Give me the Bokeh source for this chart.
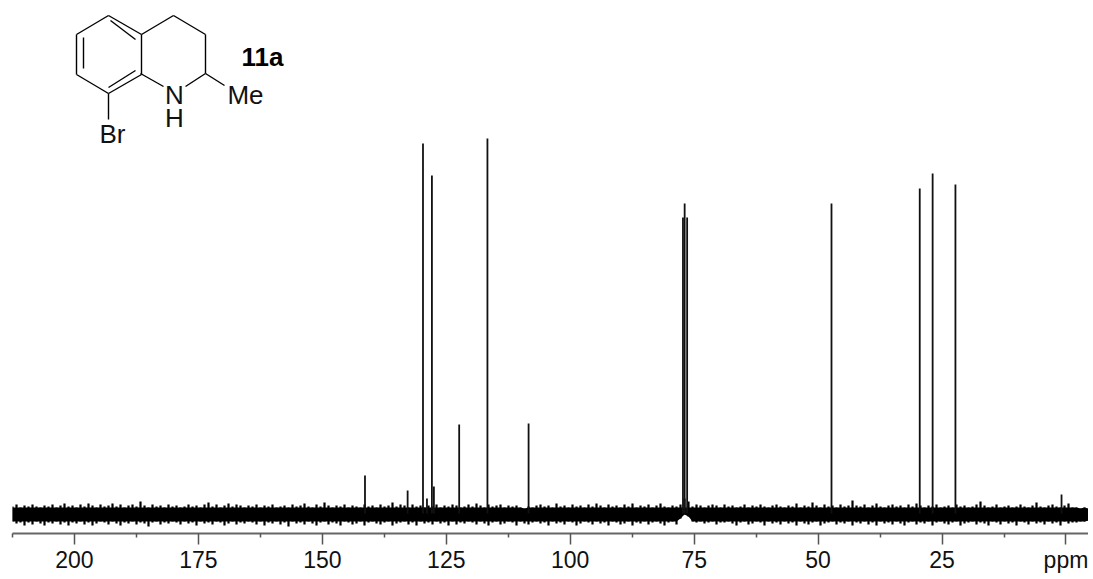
from bokeh.plotting import figure
from bokeh.models import Range1d, FixedTicker, LinearAxis
from bokeh.core.properties import value
from bokeh.embed import file_html
from bokeh.resources import INLINE
import numpy as np

# Tick labels (0 ppm position carries the unit label, as in the reference)
major_ticks = [200, 175, 150, 125, 100, 75, 50, 25, 0]
minor_ticks = [212.5, 187.5, 162.5, 137.5, 112.5, 87.5, 62.5, 37.5, 12.5]
tick_overrides = {0: "ppm"}

# Resolved peaks: chemical shift (ppm) and intensity
peak_ppm = [141.4, 132.8, 129.7, 128.9, 127.9, 127.5, 122.4, 116.7, 108.4,
            77.26, 76.92, 76.42, 47.3, 29.5, 26.9, 22.3, 0.9]
peak_int = [58, 43, 390, 35, 358, 47, 109, 395, 110,
            316, 330, 316, 330, 345, 360, 349, 39]

# Noise band envelopes, left to right across the spectrum
noise_upper = [
    27, 29, 26, 28, 27, 29, 27, 26, 28, 27, 29, 26, 28, 30, 27,
    28, 26, 29, 27, 30, 28, 26, 29, 27, 28, 30, 27, 29, 26, 28,
    29, 27, 32, 28, 26, 29, 27, 28, 26, 29, 27, 28, 26, 27, 29,
    27, 28, 26, 29, 31, 27, 29, 26, 28, 30, 27, 29, 28, 26, 28,
    27, 29, 26, 28, 27, 29, 26, 27, 28, 26, 29, 27, 28, 30, 27,
    26, 29, 27, 31, 28, 26, 28, 27, 29, 26, 28, 27, 26, 29, 27,
    28, 26, 29, 27, 28, 31, 27, 29, 28, 26, 29, 27, 28, 26, 28,
    27, 29, 26, 28, 27, 29, 28, 26, 27, 29, 27, 30, 28, 26, 29,
    27, 28, 29, 26, 28, 27, 28, 26, 25, 27, 26, 28, 29, 27, 28,
    26, 30, 27, 28, 26, 29, 27, 28, 26, 29, 27, 30, 28, 26, 29,
    27, 28, 26, 29, 27, 30, 26, 28, 27, 29, 26, 28, 30, 27, 26,
    28, 27, 29, 35, 32, 27, 29, 28, 26, 28, 29, 28, 26, 29, 27,
    28, 26, 27, 29, 26, 28, 27, 29, 27, 26, 28, 29, 27, 26, 28,
    27, 30, 26, 28, 27, 31, 28, 26, 29, 27, 28, 26, 29, 27, 28,
    33, 28, 27, 29, 26, 28, 30, 27, 26, 28, 29, 27, 28, 26, 29,
    27, 30, 28, 26, 28, 27, 29, 26, 27, 28, 26, 29, 27, 28, 26,
    27, 29, 32, 28, 26, 27, 29, 26, 27, 28, 26, 27, 29, 27, 26,
    28, 31, 27, 26, 28, 29, 27, 26, 28, 30, 26, 26, 25, 26, 25,
]
noise_lower = [
    12, 10, 11, 8, 11, 9, 12, 10, 8, 11, 10, 12, 9, 11, 8,
    11, 10, 12, 9, 11, 8, 10, 12, 11, 9, 12, 10, 8, 11, 10,
    12, 9, 11, 10, 7, 11, 12, 9, 11, 10, 12, 11, 9, 12, 10,
    11, 8, 12, 10, 11, 9, 12, 11, 8, 10, 12, 9, 11, 10, 12,
    11, 9, 12, 8, 11, 10, 12, 9, 11, 7, 12, 10, 11, 9, 12,
    10, 8, 11, 12, 9, 11, 10, 8, 12, 11, 9, 10, 12, 8, 11,
    12, 10, 9, 11, 12, 8, 10, 11, 12, 9, 11, 8, 12, 10, 11,
    9, 12, 10, 11, 8, 12, 9, 11, 10, 12, 11, 9, 12, 10, 8,
    11, 12, 9, 10, 12, 11, 8, 12, 10, 9, 11, 12, 10, 11, 8,
    12, 10, 11, 9, 12, 11, 8, 10, 12, 11, 9, 12, 10, 11, 8,
    12, 11, 9, 10, 12, 8, 11, 10, 12, 9, 11, 12, 10, 8, 11,
    12, 9, 15, 19, 17, 12, 11, 12, 10, 11, 12, 9, 11, 11, 12,
    10, 8, 11, 12, 9, 10, 12, 11, 8, 12, 10, 11, 9, 12, 10,
    11, 8, 12, 10, 9, 11, 12, 8, 10, 11, 12, 9, 11, 10, 12,
    8, 11, 10, 12, 9, 11, 8, 12, 10, 11, 9, 12, 10, 8, 11,
    12, 9, 11, 10, 12, 8, 11, 12, 10, 9, 11, 12, 8, 10, 11,
    12, 9, 11, 10, 8, 12, 11, 9, 12, 10, 11, 8, 12, 11, 9,
    12, 10, 11, 9, 12, 10, 11, 8, 12, 10, 11, 11, 12, 12, 13,
]

# Structure drawing of the compound (ring, double-bond and substituent strokes)
bond_x0 = [108, 76, 76, 108, 141, 141, 110, 83, 108, 141, 173, 205, 205, 140, 205, 108]
bond_y0 = [15, 34, 74, 93, 74, 34, 20, 37, 87, 34, 15, 34, 73, 73, 73, 93]
bond_x1 = [76, 76, 108, 141, 141, 108, 135, 83, 135, 173, 205, 205, 185, 163, 224, 108]
bond_y1 = [34, 74, 93, 74, 34, 15, 39, 68, 70, 15, 34, 73, 86, 86, 85, 119]
atom_text = ["N", "H", "Me", "Br"]
atom_x = [174, 174, 245, 112]
atom_y = [94, 117, 94, 133]
compound_label = ["11a"]
compound_x = [262]
compound_y = [56]

X_LEFT, X_RIGHT = 212.5, -4.54

p = figure(width=1088, height=575, output_backend="svg", toolbar_location=None,
           x_range=Range1d(X_LEFT, X_RIGHT), y_range=Range1d(0, 533),
           x_axis_location=None, y_axis_location=None,
           min_border_left=12, min_border_right=0, min_border_top=0, min_border_bottom=0,
           outline_line_color=None, background_fill_color="white")
p.grid.visible = False

# Page-pixel ranges used only for the structure drawing in the corner
p.extra_x_ranges["page_x"] = Range1d(12, 1088)
p.extra_y_ranges["page_y"] = Range1d(533, 0)

axis = LinearAxis(ticker=FixedTicker(ticks=major_ticks, minor_ticks=minor_ticks),
                  major_label_overrides=tick_overrides)
axis.axis_line_color = "#666666"
axis.axis_line_width = 2
axis.major_tick_line_color = "#555555"
axis.major_tick_line_width = 1.5
axis.major_tick_in = 0
axis.major_tick_out = 11
axis.minor_tick_line_color = "#555555"
axis.minor_tick_line_width = 1.5
axis.minor_tick_in = 0
axis.minor_tick_out = 4
axis.major_label_text_font = "Liberation Sans"
axis.major_label_text_font_size = "23px"
axis.major_label_text_color = "#111111"
axis.major_label_standoff = 2
p.add_layout(axis, "below")

noise_x = np.linspace(X_LEFT, X_RIGHT, len(noise_upper))
core_top = np.minimum(noise_upper, 26)
core_bottom = np.maximum(noise_lower, 12)
p.varea(x=noise_x, y1=core_bottom, y2=core_top, fill_color="black")
p.segment(x0=noise_x, y0=noise_lower, x1=noise_x, y1=noise_upper, line_color="black", line_width=2.2)

p.segment(x0=peak_ppm, y0=[20] * len(peak_ppm), x1=peak_ppm, y1=peak_int,
          line_color="#111111", line_width=1.8)

p.segment(x0=bond_x0, y0=bond_y0, x1=bond_x1, y1=bond_y1, line_color="black", line_width=1.4,
          x_range_name="page_x", y_range_name="page_y")
p.text(x=atom_x, y=atom_y, text=atom_text, text_font=value("Liberation Sans"), text_font_size="26px",
       text_align="center", text_baseline="middle", text_color="#111111",
       x_range_name="page_x", y_range_name="page_y")
p.text(x=compound_x, y=compound_y, text=compound_label, text_font=value("Liberation Sans"),
       text_font_size="26px", text_font_style="bold", text_align="center", text_baseline="middle",
       text_color="black", x_range_name="page_x", y_range_name="page_y")

open("out.html", "w").write(file_html(p, INLINE))
